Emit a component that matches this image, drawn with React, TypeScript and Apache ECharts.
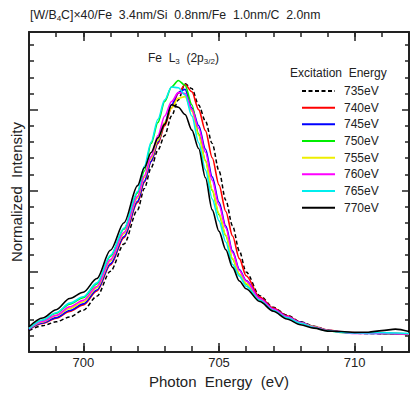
import React, { useEffect, useRef } from "react";
import * as echarts from "echarts";

const photonEnergy = [698, 698.5, 699, 699.5, 700, 700.5, 701, 701.5, 702, 702.25, 702.5, 702.75, 703, 703.25, 703.5, 703.75, 704, 704.25, 704.5, 704.75, 705, 705.25, 705.5, 705.75, 706, 706.5, 707, 707.5, 708, 708.5, 709, 709.5, 710, 710.5, 711, 711.5, 712];

const excitationLabels = ["735eV", "740eV", "745eV", "750eV", "755eV", "760eV", "765eV", "770eV"];

const i735 = [1.33, 1.63, 1.87, 2.17, 2.59, 3.45, 5.0, 6.69, 8.8, 10.12, 11.4, 12.5, 13.4, 14.6, 15.6, 16.6, 16.3, 15.28, 14.3, 12.9, 11.2, 9.4, 7.8, 6.25, 4.95, 3.49, 2.77, 2.29, 1.87, 1.6, 1.36, 1.24, 1.16, 1.15, 1.14, 1.12, 1.08];
const i740 = [1.4, 1.77, 2.1, 2.52, 2.92, 3.78, 5.39, 7.08, 9.25, 10.5, 11.8, 12.9, 14.0, 15.1, 16.0, 16.55, 16.1, 15.0, 13.7, 12.02, 10.34, 8.7, 7.18, 5.78, 4.72, 3.4, 2.72, 2.25, 1.85, 1.58, 1.37, 1.26, 1.2, 1.17, 1.16, 1.14, 1.1];
const i745 = [1.41, 1.8, 2.13, 2.57, 2.98, 3.84, 5.46, 7.15, 9.33, 10.57, 11.8, 13.0, 14.2, 15.3, 16.05, 16.25, 15.1, 14.02, 12.56, 10.84, 9.27, 7.8, 6.25, 5.11, 4.42, 3.32, 2.67, 2.2, 1.84, 1.57, 1.35, 1.25, 1.18, 1.16, 1.15, 1.13, 1.11];
const i750 = [1.5, 1.97, 2.4, 2.97, 3.37, 4.22, 5.91, 7.61, 9.85, 11.2, 12.9, 14.2, 15.5, 16.4, 16.8, 16.5, 15.3, 13.5, 11.85, 10.0, 8.5, 7.2, 5.75, 4.82, 4.22, 3.25, 2.62, 2.17, 1.8, 1.55, 1.33, 1.22, 1.17, 1.2, 1.16, 1.15, 1.12];
const i755 = [1.45, 1.87, 2.25, 2.7, 3.1, 3.98, 5.63, 7.33, 9.53, 10.8, 12.0, 13.1, 14.2, 15.1, 15.7, 15.8, 14.9, 13.4, 11.81, 10.05, 8.57, 7.24, 5.78, 4.83, 4.25, 3.26, 2.62, 2.17, 1.82, 1.56, 1.33, 1.24, 1.19, 1.18, 1.17, 1.15, 1.13];
const i760 = [1.46, 1.89, 2.28, 2.8, 3.2, 4.06, 5.72, 7.41, 9.63, 10.9, 12.1, 13.4, 14.6, 15.5, 16.05, 16.0, 15.0, 13.85, 12.36, 10.62, 9.08, 7.68, 6.15, 5.05, 4.4, 3.31, 2.66, 2.2, 1.82, 1.55, 1.34, 1.23, 1.15, 1.17, 1.16, 1.14, 1.12];
const i765 = [1.45, 1.99, 2.43, 3.03, 3.42, 4.28, 5.98, 7.67, 9.93, 11.5, 13.0, 14.4, 15.6, 16.4, 16.35, 15.9, 14.6, 12.95, 11.27, 9.47, 8.12, 6.81, 5.42, 4.7, 4.08, 3.2, 2.58, 2.13, 1.78, 1.52, 1.32, 1.23, 1.18, 1.19, 1.2, 1.18, 1.15];
const i770 = [1.57, 2.11, 2.62, 3.32, 3.7, 4.55, 6.3, 8.0, 10.3, 11.4, 12.35, 13.25, 14.1, 15.3, 15.15, 14.7, 13.73, 12.59, 10.78, 8.8, 7.47, 6.33, 5.24, 4.4, 3.92, 3.13, 2.53, 2.05, 1.69, 1.48, 1.3, 1.27, 1.22, 1.23, 1.33, 1.42, 1.27];

const seriesValues = [i735, i740, i745, i750, i755, i760, i765, i770];
const seriesColors = ["#000000", "#ff0000", "#0000ff", "#00ee00", "#eeee00", "#ff00ff", "#00eeee", "#000000"];

const FONT = "'Liberation Sans', Arial, Helvetica, sans-serif";
const AXIS_COLOR = "#222222";

export default function App() {
  const ref = useRef<HTMLDivElement>(null);

  useEffect(() => {
    if (!ref.current) return;
    const chart = echarts.init(ref.current, undefined, { renderer: "svg" });

    const xCommon = {
      type: "value" as const,
      min: 698,
      max: 712,
      splitLine: { show: false },
      axisLine: { show: true, lineStyle: { color: AXIS_COLOR, width: 2 } },
    };
    const yCommon = {
      type: "value" as const,
      min: 0,
      max: 19.8,
      interval: 5,
      splitLine: { show: false },
      axisLabel: { show: false },
      axisLine: { show: true, lineStyle: { color: AXIS_COLOR, width: 2 } },
    };

    const option: any = {
      animation: false,
      backgroundColor: "#ffffff",
      textStyle: { fontFamily: FONT },
      title: [
        {
          text: "[W/B{sub|4}C]×40/Fe  3.4nm/Si  0.8nm/Fe  1.0nm/C  2.0nm",
          left: 30,
          top: 8,
          padding: 0,
          textStyle: {
            fontFamily: FONT,
            fontSize: 12.3,
            fontWeight: "normal",
            color: "#222",
            rich: {
              sub: { fontFamily: FONT, fontSize: 8, color: "#222", verticalAlign: "bottom", padding: [6, 0, 0, 0] },
            },
          },
        },
        {
          text: "Fe  L{sub|3}  (2p{sub|3/2})",
          left: 148,
          top: 51,
          padding: 0,
          textStyle: {
            fontFamily: FONT,
            fontSize: 12,
            fontWeight: "normal",
            color: "#222",
            rich: {
              sub: { fontFamily: FONT, fontSize: 8, color: "#222", verticalAlign: "bottom", padding: [6, 0, 0, 0] },
            },
          },
        },
        {
          text: "Excitation  Energy",
          left: 290,
          top: 67,
          padding: 0,
          textStyle: { fontFamily: FONT, fontSize: 12, fontWeight: "normal", color: "#222" },
        },
      ],
      legend: {
        orient: "vertical",
        left: 301,
        top: 84,
        padding: 0,
        itemWidth: 33,
        itemHeight: 14,
        itemGap: 2.67,
        data: excitationLabels,
        itemStyle: { opacity: 0 },
        textStyle: { fontFamily: FONT, fontSize: 12, color: "#222", lineHeight: 14, padding: [0, 0, 0, 4] },
      },
      grid: { left: 29, top: 32, width: 386, height: 329, containLabel: false },
      xAxis: [
        {
          ...xCommon,
          position: "bottom",
          interval: 1,
          axisTick: { show: true, inside: true, length: 6, lineStyle: { color: AXIS_COLOR, width: 1.5 } },
          axisLabel: {
            show: true,
            margin: 4,
            fontFamily: FONT,
            fontSize: 13,
            color: "#222",
            formatter: (v: number) => (Math.round(v) % 5 === 0 && v > 698 && v < 712 ? String(v) : ""),
          },
          name: "Photon  Energy  (eV)",
          nameLocation: "middle",
          nameGap: 14,
          nameTextStyle: { fontFamily: FONT, fontSize: 15, color: "#222" },
        },
        {
          ...xCommon,
          position: "bottom",
          axisLine: { show: false },
          axisTick: { show: true, inside: true, length: 9, customValues: [700, 705, 710], lineStyle: { color: AXIS_COLOR, width: 1.5 } },
          axisLabel: { show: false },
        },
        {
          ...xCommon,
          position: "top",
          interval: 1,
          axisTick: { show: true, inside: true, length: 5, lineStyle: { color: AXIS_COLOR, width: 1.5 } },
          axisLabel: { show: false },
        },
        {
          ...xCommon,
          position: "top",
          axisLine: { show: false },
          axisTick: { show: true, inside: true, length: 9, customValues: [700, 705, 710], lineStyle: { color: AXIS_COLOR, width: 1.5 } },
          axisLabel: { show: false },
        },
      ],
      yAxis: [
        {
          ...yCommon,
          position: "left",
          axisTick: { show: true, inside: true, length: 9, lineStyle: { color: AXIS_COLOR, width: 1.5 } },
          minorTick: { show: true, splitNumber: 5, length: 5, lineStyle: { color: AXIS_COLOR, width: 1.5 } },
          name: "Normalized  Intensity",
          nameLocation: "middle",
          nameGap: 5,
          nameTextStyle: { fontFamily: FONT, fontSize: 15, color: "#222" },
        },
        {
          ...yCommon,
          position: "right",
          axisTick: { show: true, inside: true, length: 7, lineStyle: { color: AXIS_COLOR, width: 1.5 } },
          minorTick: { show: true, splitNumber: 5, length: 4, lineStyle: { color: AXIS_COLOR, width: 1.5 } },
        },
      ],
      series: excitationLabels.map((name, k) => ({
        name,
        type: "line",
        xAxisIndex: 0,
        yAxisIndex: 0,
        symbol: "none",
        smooth: 0.3,
        smoothMonotone: "x",
        clip: true,
        color: seriesColors[k],
        lineStyle: {
          color: seriesColors[k],
          width: k === 0 ? 1.5 : 1.6,
          type: k === 0 ? [4, 2.5] : "solid",
        },
        data: photonEnergy.map((x, i) => [x, seriesValues[k][i]]),
      })),
    };

    chart.setOption(option);
    return () => {
      chart.dispose();
    };
  }, []);

  return (
    <div
      ref={ref}
      style={{ position: "absolute", left: 0, top: 0, width: 412, height: 394, background: "#fff" }}
    />
  );
}
